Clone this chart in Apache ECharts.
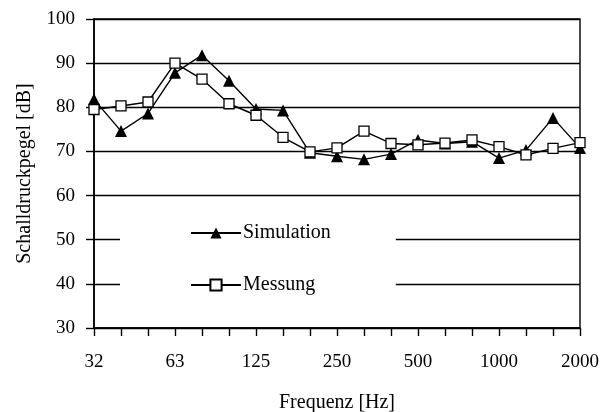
<!DOCTYPE html>
<html><head><meta charset="utf-8">
<script src="https://cdn.jsdelivr.net/npm/echarts@6/dist/echarts.min.js"></script>
<style>html,body{margin:0;padding:0;background:#fff}#c{width:616px;height:412px}</style>
</head><body><div id="c"></div>
<script>
var categories = ['32','40','50','63','80','100','125','160','200','250','315','400','500','630','800','1000','1250','1600','2000'];
var simulation = [81.8, 74.6, 78.6, 87.8, 91.8, 86.0, 79.6, 79.3, 69.7, 68.9, 68.2, 69.4, 72.6, 71.8, 72.2, 68.5, 70.3, 77.6, 70.8];
var messung    = [79.5, 80.3, 81.2, 90.0, 86.4, 80.8, 78.2, 73.2, 69.9, 70.8, 74.6, 71.8, 71.5, 71.9, 72.6, 71.1, 69.2, 70.7, 72.0];
var yTicks = {min: 30, max: 100, interval: 10};
var font = 'Liberation Serif, Times New Roman, serif';
var chart = echarts.init(document.getElementById('c'));
chart.setOption({
  animation: false,
  backgroundColor: '#fff',
  textStyle: {fontFamily: font, color: '#000'},
  grid: {left: 94, right: 36, top: 19, bottom: 84, outerBoundsMode: 'none', containLabel: false,
         show: true, borderColor: '#000', borderWidth: 1.4, backgroundColor: 'transparent'},
  legend: {
    orient: 'vertical', left: 120, top: 207,
    padding: [16, 65, 16, 70],
    backgroundColor: '#fff',
    itemWidth: 50, itemHeight: 14, itemGap: 32,
    textStyle: {fontFamily: font, fontSize: 20, color: '#000', padding: [0, 0, 0, -3]},
    data: ['Simulation', 'Messung']
  },
  xAxis: {
    type: 'category', data: categories, boundaryGap: false,
    name: 'Frequenz [Hz]', nameLocation: 'middle', nameGap: 65,
    nameTextStyle: {fontFamily: font, fontSize: 20, color: '#000'},
    axisLine: {lineStyle: {color: '#000', width: 1.6}},
    axisTick: {show: true, interval: 0, length: 8, lineStyle: {color: '#000', width: 1.4}},
    axisLabel: {interval: 2, margin: 25, fontFamily: font, fontSize: 19, color: '#000'},
    splitLine: {show: false}
  },
  yAxis: {
    type: 'value', min: yTicks.min, max: yTicks.max, interval: yTicks.interval,
    name: 'Schalldruckpegel [dB]', nameLocation: 'middle', nameGap: 59, nameRotate: 90,
    nameTextStyle: {fontFamily: font, fontSize: 20, color: '#000'},
    axisLine: {show: true, lineStyle: {color: '#000', width: 1.6}},
    axisTick: {show: true, length: 8, lineStyle: {color: '#000', width: 1.4}},
    axisLabel: {margin: 19, fontFamily: font, fontSize: 19, color: '#000'},
    splitLine: {show: true, lineStyle: {color: '#000', width: 1.4}}
  },
  series: [
    {name: 'Simulation', type: 'line', data: simulation, symbol: 'triangle', symbolSize: 12,
     lineStyle: {color: '#000', width: 1.4}, itemStyle: {color: '#000', borderColor: '#000', borderWidth: 0}, z: 3},
    {name: 'Messung', type: 'line', data: messung, symbol: 'rect', symbolSize: 10,
     lineStyle: {color: '#000', width: 1.4}, itemStyle: {color: '#fff', borderColor: '#000', borderWidth: 1.3}, z: 4}
  ]
});
</script></body></html>
